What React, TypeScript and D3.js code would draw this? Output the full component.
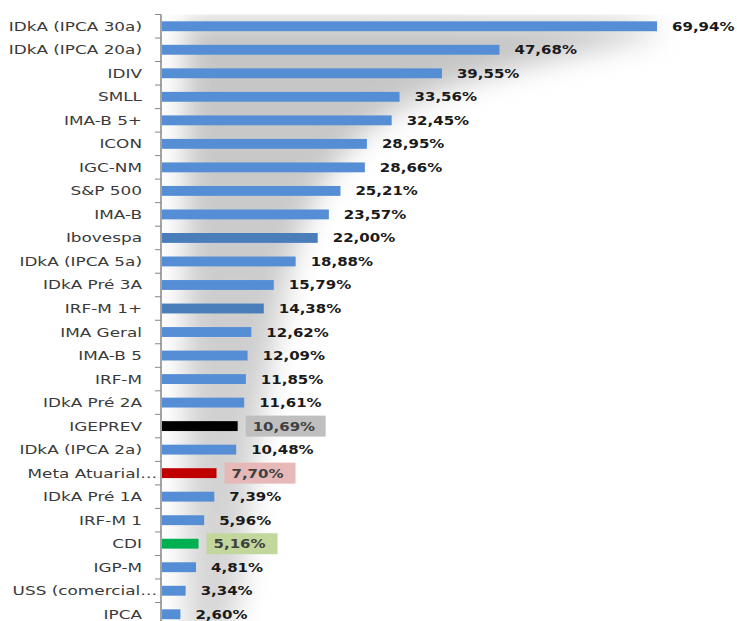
import React from 'react';
import * as d3 from 'd3';

const categories = [
  'IDkA (IPCA 30a)', 'IDkA (IPCA 20a)', 'IDIV', 'SMLL', 'IMA-B 5+', 'ICON', 'IGC-NM',
  'S&P 500', 'IMA-B', 'Ibovespa', 'IDkA (IPCA 5a)', 'IDkA Pré 3A', 'IRF-M 1+',
  'IMA Geral', 'IMA-B 5', 'IRF-M', 'IDkA Pré 2A', 'IGEPREV', 'IDkA (IPCA 2a)',
  'Meta Atuarial…', 'IDkA Pré 1A', 'IRF-M 1', 'CDI', 'IGP-M', 'USS (comercial…', 'IPCA',
];
const values = [
  69.94, 47.68, 39.55, 33.56, 32.45, 28.95, 28.66, 25.21, 23.57, 22.0, 18.88, 15.79,
  14.38, 12.62, 12.09, 11.85, 11.61, 10.69, 10.48, 7.7, 7.39, 5.96, 5.16, 4.81, 3.34, 2.6,
];
const highlighted = ['IGEPREV', 'Meta Atuarial…', 'CDI'];

// styles kept apart from the data
const barColor: Record<string, string> = {
  Ibovespa: '#4a7ebb',
  'IRF-M 1+': '#4a7ebb',
  IGEPREV: '#000000',
  'Meta Atuarial…': '#c00000',
  CDI: '#00b050',
};
const boxColor: Record<string, string> = {
  IGEPREV: '#bfbfbf',
  'Meta Atuarial…': '#e6b9b8',
  CDI: '#c3d69b',
};

const W = 737;
const H = 621;
const axisX = 161;
const top = 14.5;
const step = 23.52;

const fmt = (v: number) => v.toFixed(2).replace('.', ',') + '%';

export default function App() {
  const y = d3
    .scaleBand<string>()
    .domain(categories)
    .range([top, top + step * categories.length])
    .paddingInner(0.58)
    .paddingOuter(0.29);
  const x = d3.scaleLinear().domain([0, 80]).range([axisX + 1, axisX + 1 + 80 * 7.078]);

  const plotW = W - axisX;
  const plotH = H - top;
  // soft grey shadow behind the plot area
  const shadow = d3.line<[number, number]>().curve(d3.curveBasis)([
    [axisX + 24, top + 6],
    [axisX + plotW * 0.95, top + 6],
    [axisX + plotW * 0.83, top + plotH * 0.04],
    [axisX + plotW * 0.55, top + plotH * 0.1],
    [axisX + plotW * 0.38, top + plotH * 0.16],
    [axisX + plotW * 0.27, top + plotH * 0.28],
    [axisX + plotW * 0.22, top + plotH * 0.42],
    [axisX + plotW * 0.18, top + plotH * 0.62],
    [axisX + plotW * 0.15, top + plotH * 0.82],
    [axisX + plotW * 0.14, H + 20],
    [axisX + 24, H + 20],
  ]);

  const labelFont = 'DejaVu Sans, Verdana, sans-serif';

  return (
    <div style={{ position: 'absolute', left: 0, top: 0 }}>
      <svg width={W} height={H} style={{ display: 'block', background: '#fff' }}>
        <defs>
          <clipPath id="plot">
            <rect x={axisX} y={top} width={plotW} height={plotH} />
          </clipPath>
          <filter id="blur" x="-50%" y="-50%" width="200%" height="200%">
            <feGaussianBlur stdDeviation="14" />
          </filter>
          <linearGradient id="shade" x1="0" y1="0" x2="0" y2="1">
            <stop offset="0%" stopColor="#c4c4c4" />
            <stop offset="100%" stopColor="#d8d8d8" />
          </linearGradient>
        </defs>
        <g clipPath="url(#plot)">
          <path d={shadow ?? ''} fill="url(#shade)" filter="url(#blur)" />
        </g>

        {categories.map((c, i) => {
          const v = values[i];
          const by = y(c)!;
          const bh = y.bandwidth();
          const cy = by + bh / 2;
          const end = x(v);
          const hl = highlighted.includes(c);
          const trunc = c.endsWith('…');
          return (
            <g key={c}>
              <rect x={x(0)} y={by} width={end - x(0)} height={bh} fill={barColor[c] ?? '#558ed5'} />
              <text
                transform={`translate(${trunc ? axisX - 4 : axisX - 19},${cy + 4.5}) scale(1.35,1)`}
                textAnchor="end"
                fontFamily={labelFont}
                fontSize={12.5}
                fill="#3a3a3a"
              >
                {c}
              </text>
              {hl && (
                <rect x={end + 8} y={cy - 10.5} width={v >= 10 ? 80 : 71} height={21} fill={boxColor[c]} />
              )}
              <text
                transform={`translate(${end + 15},${cy + 4.5}) scale(1.2,1)`}
                fontFamily={labelFont}
                fontWeight="bold"
                fontSize={12.5}
                fill={hl ? '#404040' : '#1a1a1a'}
              >
                {fmt(v)}
              </text>
            </g>
          );
        })}

        <line x1={axisX} x2={axisX} y1={top} y2={H} stroke="#868686" strokeWidth={1.5} />
        {d3.range(categories.length + 1).map((i) => (
          <line
            key={i}
            x1={axisX - 6}
            x2={axisX}
            y1={top + i * step}
            y2={top + i * step}
            stroke="#868686"
            strokeWidth={1}
          />
        ))}
      </svg>
    </div>
  );
}
